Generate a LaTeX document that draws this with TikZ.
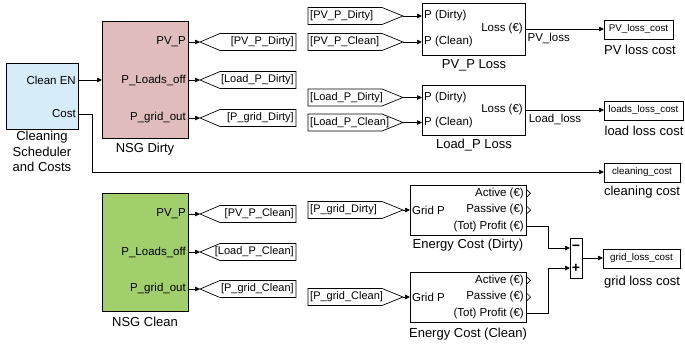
\documentclass[tikz,border=0pt]{standalone}
\usepackage{fontspec}
\setmainfont{Liberation Sans}
\usetikzlibrary{arrows.meta}
\definecolor{csblue}{HTML}{D6ECF9}
\definecolor{nsgpink}{HTML}{E0BCBC}
\definecolor{nsggreen}{HTML}{A0CF6C}
\newcommand\gotoTag[5]{%
  \draw[tagline] (#2,#4) -- (#2+20,#4-8.5) -- (#3,#4-8.5) -- (#3,#4+8.5) -- (#2+20,#4+8.5) -- cycle;
  \node[tagtxt,anchor=east] (#1) at (#3-2,#4) {#5};
  \coordinate (#1-in) at (#2,#4);}
\newcommand\fromTag[5]{%
  \draw[tagline] (#2,#4-8.5) -- (#3,#4-8.5) -- (#3+21,#4) -- (#3,#4+8.5) -- (#2,#4+8.5) -- cycle;
  \node[tagtxt,anchor=west] (#1) at (#2+2,#4) {#5};
  \coordinate (#1-out) at (#3+21,#4);}
\begin{document}
\begin{tikzpicture}[x=1pt,y=-1pt,
  blk/.style={draw=black,line width=0.8pt,inner sep=0pt,anchor=north west},
  tagline/.style={draw=black,line width=0.7pt,fill=white},
  sig/.style={draw=black,line width=0.7pt,-{Triangle[length=5pt,width=4.5pt]}},
  wire/.style={draw=black,line width=0.7pt},
  plab/.style={font=\fontsize{11.5}{13}\selectfont,inner sep=0pt},
  blab/.style={font=\fontsize{13}{15.5}\selectfont,inner sep=0pt,align=center},
  tagtxt/.style={font=\fontsize{11}{13}\selectfont,inner sep=0pt},
  small/.style={font=\fontsize{9.8}{11}\selectfont,inner sep=0pt},
  openport/.style={draw=black,line width=0.7pt}
]
\useasboundingbox (0,0) rectangle (685,349);

% ---------- Cleaning scheduler ----------
\node[blk,fill=csblue,minimum width=72pt,minimum height=66pt] (cs) at (6,63) {};
\node[plab,anchor=east] (csEN) at (76,80) {Clean EN};
\node[plab,anchor=east] (csCost) at (76,114) {Cost};
\coordinate (csENo) at (78,80);
\coordinate (csCosto) at (78,114);
\node[blab,anchor=north] (csL) at (42,131) {Cleaning\\Scheduler\\and Costs};

% ---------- NSG Dirty ----------
\node[blk,fill=nsgpink,minimum width=86pt,minimum height=117pt] (nd) at (102,21) {};
\node[plab,anchor=east] (ndp1) at (186,42) {PV\_P};
\node[plab,anchor=east] (ndp2) at (186,80) {P\_Loads\_off};
\node[plab,anchor=east] (ndp3) at (186,118) {P\_grid\_out};
\coordinate (ndIn) at (102,80);
\coordinate (ndo1) at (188,42);
\coordinate (ndo2) at (188,80);
\coordinate (ndo3) at (188,118);
\node[blab] (ndL) at (145,149) {NSG Dirty};

% ---------- NSG Clean ----------
\node[blk,fill=nsggreen,minimum width=86pt,minimum height=118pt] (nc) at (102,193) {};
\node[plab,anchor=east] (ncp1) at (186,214) {PV\_P};
\node[plab,anchor=east] (ncp2) at (186,252) {P\_Loads\_off};
\node[plab,anchor=east] (ncp3) at (186,289) {P\_grid\_out};
\coordinate (nco1) at (188,214);
\coordinate (nco2) at (188,252);
\coordinate (nco3) at (188,289);
\node[blab] (ncL) at (145,322) {NSG Clean};

% ---------- Goto tags ----------
\gotoTag{gPVd}{200}{296}{42}{[PV\_P\_Dirty]}
\gotoTag{gLd}{200}{296}{80}{[Load\_P\_Dirty]}
\gotoTag{gGd}{200}{296}{118}{[P\_grid\_Dirty]}
\gotoTag{gPVc}{200}{296}{214}{[PV\_P\_Clean]}
\gotoTag{gLc}{200}{296}{252}{[Load\_P\_Clean]}
\gotoTag{gGc}{200}{296}{289}{[P\_grid\_Clean]}

\draw[sig] (csENo) -- (ndIn);
\draw[sig] (ndo1) -- (gPVd-in);
\draw[sig] (ndo2) -- (gLd-in);
\draw[sig] (ndo3) -- (gGd-in);
\draw[sig] (nco1) -- (gPVc-in);
\draw[sig] (nco2) -- (gLc-in);
\draw[sig] (nco3) -- (gGc-in);

% ---------- From tags ----------
\fromTag{fPVd}{308}{382}{16}{[PV\_P\_Dirty]}
\fromTag{fPVc}{308}{382}{42}{[PV\_P\_Clean]}
\fromTag{fLd}{308}{382}{97.5}{[Load\_P\_Dirty]}
\fromTag{fLc}{308}{382}{122.5}{[Load\_P\_Clean]}
\fromTag{fGd}{308}{382}{210}{[P\_grid\_Dirty]}
\fromTag{fGc}{308}{382}{297}{[P\_grid\_Clean]}

% ---------- PV_P Loss ----------
\node[blk,fill=white,minimum width=103pt,minimum height=52pt] (pvl) at (422,3) {};
\node[plab,anchor=west] (pvl1) at (424,16) {P (Dirty)};
\node[plab,anchor=west] (pvl2) at (424,42) {P (Clean)};
\node[plab,anchor=east] (pvlo) at (523,29) {Loss (€)};
\coordinate (pvlI1) at (422,16);
\coordinate (pvlI2) at (422,42);
\coordinate (pvlO) at (525,29);
\node[blab] (pvlL) at (474,65) {PV\_P Loss};
\draw[sig] (fPVd-out) -- (pvlI1);
\draw[sig] (fPVc-out) -- (pvlI2);

% ---------- Load_P Loss ----------
\node[blk,fill=white,minimum width=103pt,minimum height=50pt] (ldl) at (422,85) {};
\node[plab,anchor=west] (ldl1) at (424,97.5) {P (Dirty)};
\node[plab,anchor=west] (ldl2) at (424,122.5) {P (Clean)};
\node[plab,anchor=east] (ldlo) at (523,110) {Loss (€)};
\coordinate (ldlI1) at (422,97.5);
\coordinate (ldlI2) at (422,122.5);
\coordinate (ldlO) at (525,110);
\node[blab] (ldlL) at (474,145) {Load\_P Loss};
\draw[sig] (fLd-out) -- (ldlI1);
\draw[sig] (fLc-out) -- (ldlI2);

% ---------- sinks ----------
\node[blk,fill=white,minimum width=69pt,minimum height=19pt] (pvc) at (604,19.5) {};
\node[small] (pvcT) at (638.5,29) {PV\_loss\_cost};
\node[blab] (pvcL) at (640,50) {PV loss cost};
\coordinate (pvcI) at (604,29);
\draw[sig] (pvlO) -- node[plab,below=4pt,pos=0.3] (pvlN) {PV\_loss} (pvcI);

\node[blk,fill=white,minimum width=79pt,minimum height=19pt] (llc) at (604,100.5) {};
\node[small] (llcT) at (643.5,110) {loads\_loss\_cost};
\node[blab] (llcL) at (644,131) {load loss cost};
\coordinate (llcI) at (604,110);
\draw[sig] (ldlO) -- node[plab,below=4pt,pos=0.38] (ldlN) {Load\_loss} (llcI);

\node[blk,fill=white,minimum width=76pt,minimum height=19pt] (clc) at (604,162.5) {};
\node[small] (clcT) at (642,172) {cleaning\_cost};
\node[blab] (clcL) at (642,192) {cleaning cost};
\coordinate (clcI) at (604,172);
\draw[sig] (csCosto) -- (92,114) -- (92,172) -- (clcI);

% ---------- Energy Cost (Dirty) ----------
\node[blk,fill=white,minimum width=116pt,minimum height=50pt] (ecd) at (410,185) {};
\node[plab,anchor=west] (ecdG) at (412,210) {Grid P};
\node[plab,anchor=east] (ecdA) at (524,193.3) {Active (€)};
\node[plab,anchor=east] (ecdP) at (524,210) {Passive (€)};
\node[plab,anchor=east] (ecdT) at (524,226.7) {(Tot) Profit (€)};
\coordinate (ecdI) at (410,210);
\coordinate (ecdO) at (526,226.7);
\node[blab] (ecdL) at (468,245) {Energy Cost (Dirty)};
\draw[openport] (527,189.8) -- (530.5,193.3) -- (527,196.8);
\draw[openport] (527,206.5) -- (530.5,210) -- (527,213.5);
\draw[sig] (fGd-out) -- (ecdI);

% ---------- Energy Cost (Clean) ----------
\node[blk,fill=white,minimum width=116pt,minimum height=50pt] (ecc) at (410,272) {};
\node[plab,anchor=west] (eccG) at (412,297) {Grid P};
\node[plab,anchor=east] (eccA) at (524,280.3) {Active (€)};
\node[plab,anchor=east] (eccP) at (524,297) {Passive (€)};
\node[plab,anchor=east] (eccT) at (524,313.7) {(Tot) Profit (€)};
\coordinate (eccI) at (410,297);
\coordinate (eccO) at (526,313.7);
\node[blab] (eccL) at (468,334) {Energy Cost (Clean)};
\draw[openport] (527,276.8) -- (530.5,280.3) -- (527,283.8);
\draw[openport] (527,293.5) -- (530.5,297) -- (527,300.5);
\draw[sig] (fGc-out) -- (eccI);

% ---------- Sum ----------
\node[blk,fill=white,minimum width=12pt,minimum height=40pt] (sum) at (570,238) {};
\node[font=\bfseries\fontsize{14}{14}\selectfont,inner sep=0pt] (sumM) at (576,248) {−};
\node[font=\bfseries\fontsize{14}{14}\selectfont,inner sep=0pt] (sumP) at (576,268) {+};
\coordinate (sumI1) at (570,248);
\coordinate (sumI2) at (570,268);
\coordinate (sumO) at (582,258);
\draw[sig] (ecdO) -- (548,226.7) -- (548,248) -- (sumI1);
\draw[sig] (eccO) -- (548,313.7) -- (548,268) -- (sumI2);

\node[blk,fill=white,minimum width=77pt,minimum height=19pt] (glc) at (603,248.5) {};
\node[small] (glcT) at (641.5,258) {grid\_loss\_cost};
\node[blab] (glcL) at (642,282) {grid loss cost};
\coordinate (glcI) at (603,258);
\draw[sig] (sumO) -- (glcI);
\end{tikzpicture}
\end{document}
